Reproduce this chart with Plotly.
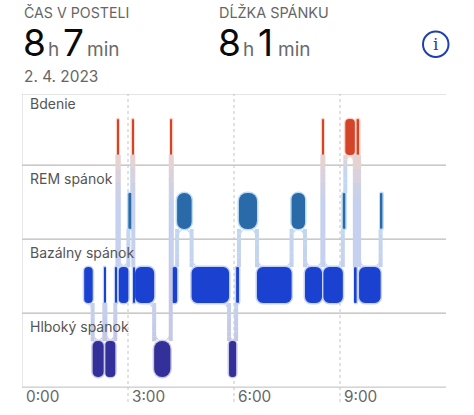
import plotly.graph_objects as go

W, H = 474, 415
stage_names = ["Hlboký spánok", "Bazálny spánok", "REM spánok", "Bdenie"]
tick_hours = [0, 3, 6, 9]
tick_labels = ["0:00", "3:00", "6:00", "9:00"]

seg_stage = [1,0,1,0,1,3,1,2,3,1,1,0,3,1,2,1,0,1,2,1,2,1,3,1,2,3,1,3,1,2]
seg_start = [1.76,2.00,2.33,2.36,2.64,2.70,2.74,3.01,3.12,3.15,3.20,3.74,4.21,4.24,4.39,4.80,5.86,6.06,6.14,6.65,7.63,8.01,8.50,8.53,9.08,9.15,9.42,9.47,9.54,10.15]
seg_end   = [2.00,2.31,2.35,2.64,2.69,2.73,3.01,3.11,3.15,3.18,3.74,4.20,4.24,4.39,4.80,5.86,6.06,6.14,6.65,7.63,8.01,8.49,8.53,9.08,9.15,9.42,9.47,9.54,10.15,10.20]

fill = ["#33309a", "#1a41d0", "#2a6aa8", "#d2452a"]
halo = ["#c8c9e8", "#c5d3f2", "#bcdcf2", "#fbd3c6"]
conn = [(197,200,230), (197,209,238), (195,216,240), (236,212,208)]
radius = [9, 6, 8, 7]
FONT = "Inter, Roboto, sans-serif"
BAR = 0.486
PXH = 424 / 12      # pixels per hour
PXY = 74.0          # pixels per stage row

fig = go.Figure()

def px(x): return x / W
def py(y): return 1 - y / H
def rgb(c): return f"rgb({c[0]},{c[1]},{c[2]})"

shapes = []

def fillet(t, edge, side, vert, stage, bar_len):
    """concave curve joining a connector to a bar; side=±1 in x, vert=±1 in y"""
    r = min(5.0, max(bar_len * PXH - 4, 0))
    if r < 1.5:
        return
    xa = t + side * 2 / PXH
    xb = xa + side * r / PXH
    yc = edge + vert * 1.5 / PXY
    yb = yc + vert * r / PXY
    shapes.append(dict(type="path", xref="x", yref="y", layer="below",
                       path=f"M {xa:.4f} {yc:.4f} L {xb:.4f} {yc:.4f} Q {xa:.4f} {yc:.4f} {xa:.4f} {yb:.4f} Z",
                       fillcolor=rgb(conn[stage]), line=dict(width=0)))

# connectors between consecutive stages
dur = [e - s for s, e in zip(seg_start, seg_end)]
N = 8
for i in range(len(seg_stage) - 1):
    a, b = seg_stage[i], seg_stage[i + 1]
    if a == b:
        continue
    t = seg_start[i + 1]
    sign = 1 if b > a else -1
    y0 = a + sign * BAR / 2
    y1 = b - sign * BAR / 2
    fillet(t, y0, -1, sign, a, dur[i])
    fillet(t, y1, 1, -sign, b, dur[i + 1])
    for k in range(N):
        f = (k + 0.5) / N
        # the wake tint fades out quickly next to the wake row
        if a == 3:
            f = min(1, f * 2.5)
        if b == 3:
            f = 1 - min(1, (1 - f) * 2.5)
        c = tuple(int(conn[a][j] * (1 - f) + conn[b][j] * f) for j in range(3))
        ya = y0 + (y1 - y0) * k / N
        yb = y0 + (y1 - y0) * (k + 1) / N + 0.003 * sign
        fig.add_trace(go.Scatter(x=[t, t], y=[ya, yb], mode="lines", hoverinfo="skip",
                                 line=dict(color=rgb(c), width=4), showlegend=False))

# halo and fill bars, one pair per stage
for s in range(4):
    idx = [i for i, v in enumerate(seg_stage) if v == s]
    yy = [s] * len(idx)
    xx = [dur[i] for i in idx]
    bb = [seg_start[i] for i in idx]
    fig.add_trace(go.Bar(y=yy, x=xx, base=bb, orientation="h", width=BAR,
                         marker=dict(color=halo[s], cornerradius=radius[s],
                                     line=dict(color=halo[s], width=3)), showlegend=False))
for s in range(4):
    idx = [i for i, v in enumerate(seg_stage) if v == s]
    yy = [s] * len(idx)
    xx = [dur[i] for i in idx]
    bb = [seg_start[i] for i in idx]
    fig.add_trace(go.Bar(y=yy, x=xx, base=bb, orientation="h", width=BAR,
                         marker=dict(color=fill[s], cornerradius=radius[s], line=dict(width=0)),
                         showlegend=False))

for yv, col in [(3.58, "#d0d0d0"), (2.62, "#a8a8a8"), (1.62, "#a8a8a8"), (0.62, "#a8a8a8"), (-0.38, "#bdbdbd")]:
    shapes.append(dict(type="line", xref="x domain", x0=0, x1=1, yref="y", y0=yv, y1=yv,
                       line=dict(color=col, width=1), layer="below"))
shapes.append(dict(type="line", xref="x", x0=0, x1=0, yref="y", y0=-0.38, y1=3.58,
                   line=dict(color="#d0d0d0", width=1), layer="below"))
for h in tick_hours[1:]:
    shapes.append(dict(type="line", xref="x", x0=h, x1=h, yref="y domain", y0=0, y1=1,
                       line=dict(color="#c4c4c4", width=1, dash="dot"), layer="below"))
# info icon
shapes.append(dict(type="circle", xref="paper", yref="paper",
                   x0=px(423), x1=px(448.5), y0=py(57), y1=py(31.5),
                   line=dict(color="#1f3fb0", width=2)))

ann = []
def text(x, y, s, size, color, family=FONT, anchor="left"):
    ann.append(dict(xref="paper", yref="paper", x=px(x), y=py(y), text=s, showarrow=False,
                    xanchor=anchor, yanchor="middle", align="left",
                    font=dict(size=size, color=color, family=family)))

GRAY = "#666666"
text(22, 12, "ČAS V POSTELI", 14.2, GRAY)
text(217, 12, "DĹŽKA SPÁNKU", 14.4, GRAY)
for x, s in [(21, "8"), (61, "7"), (216, "8"), (256, "1")]:
    text(x, 43, s, 37, "#0a0a0a")
for x, s in [(46, "h"), (85, "min"), (241, "h"), (276, "min")]:
    text(x, 50, s, 19, "#6a6a6a")
text(22, 76, "2. 4. 2023", 15.4, GRAY)
text(435.7, 44, "i", 17, "#1f3fb0", family="DejaVu Serif", anchor="center")
for s, y in zip(stage_names[::-1], [104, 178, 252, 326]):
    text(28, y, s, 14, "#555555")
for h, lab in zip(tick_hours, tick_labels):
    ann.append(dict(xref="x", yref="paper", x=h, y=py(396), text=lab, showarrow=False,
                    xanchor="left", yanchor="middle", xshift=2,
                    font=dict(size=15.3, color="#666666", family=FONT)))

fig.update_layout(
    width=W, height=H, margin=dict(l=0, r=0, t=0, b=0), autosize=False,
    paper_bgcolor="white", plot_bgcolor="white", barmode="overlay",
    shapes=shapes, annotations=ann, showlegend=False,
    xaxis=dict(domain=[px(22), px(446)], range=[0, 12], showgrid=False, zeroline=False,
               showticklabels=False, ticks=""),
    yaxis=dict(domain=[py(402), py(94)], range=[-0.581, 3.581], showgrid=False, zeroline=False,
               showticklabels=False, ticks=""),
)
fig.write_html("out.html", config=dict(displayModeBar=False),
               post_script="document.body.style.margin='0';")
